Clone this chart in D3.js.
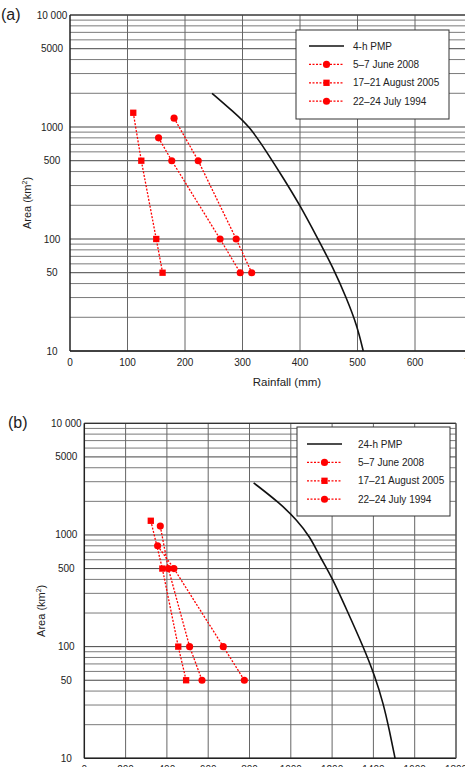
<!DOCTYPE html>
<html>
<head>
<meta charset="utf-8">
<script src="https://cdn.jsdelivr.net/npm/d3@7"></script>
<style>
  body { margin: 0; background: #fff; }
  svg { display: block; font-family: 'Liberation Sans', Arial, sans-serif; }
</style>
</head>
<body>
<div id="chart"></div>
<script>
const width = 465
const height = 767

// flood events: area (km2) and rainfall (mm) for 4-h and 24-h durations
const eventNames = ['5–7 June 2008', '17–21 August 2005', '22–24 July 1994']
const june2008Area = [1200, 500, 100, 50]
const june2008Rain4h = [181, 223, 289, 316]
const june2008Rain24h = [368, 407, 510, 570]
const aug2005Area = [1340, 500, 100, 50]
const aug2005Rain4h = [110, 124, 150, 161]
const aug2005Rain24h = [322, 378, 455, 493]
const jul1994Area = [800, 500, 100, 50]
const jul1994Rain4h = [154, 177, 261, 296]
const jul1994Rain24h = [355, 434, 673, 775]

// PMP depth-area curves
const pmpArea4h = [2000, 1370, 1000, 600, 350, 200, 105, 55, 29.5, 17, 10]
const pmpRain4h = [247, 284, 313, 342, 371, 400, 429, 458, 481, 499, 510]
const pmpArea24h = [2930, 1920, 1360, 964, 638, 423, 213, 100, 54, 31, 18, 10]
const pmpRain24h = [820, 948, 1029, 1093, 1141, 1198, 1271, 1351, 1408, 1448, 1477, 1505]

const yTicks = [10, 50, 100, 500, 1000, 5000, 10000]
const yTickLabels = ['10', '50', '100', '500', '1000', '5000', '10 000']
const xTicks4h = [0, 100, 200, 300, 400, 500, 600, 700, 800]
const xTicks24h = [0, 200, 400, 600, 800, 1000, 1200, 1400, 1600, 1800]

const red = '#ff0000'
const zip = (xs, ys) => xs.map((x, i) => ({ rain: x, area: ys[i] }))

const svg = d3.select('#chart')
  .append('svg')
  .attr('width', width)
  .attr('height', height)

function drawPanel(opt) {
  const x = d3.scaleLinear().domain(opt.xDomain).range([opt.left, opt.right])
  const y = d3.scaleLog().domain([10, 10000]).range([opt.bottom, opt.top])
  const g = svg.append('g')
  const xEnd = Math.min(opt.right, width + 5)

  // horizontal log grid
  const hLines = []
  for (let dec = 10; dec < 10000; dec *= 10) {
    for (let m = 1; m < 10; m++) hLines.push(dec * m)
  }
  hLines.push(10000)
  g.selectAll('.hgrid')
    .data(hLines)
    .enter().append('line')
    .attr('x1', opt.left)
    .attr('x2', xEnd)
    .attr('y1', d => y(d))
    .attr('y2', d => y(d))
    .attr('stroke', d => {
      const m = d / Math.pow(10, Math.floor(Math.log10(d) + 1e-9))
      return (Math.round(m) === 1 || Math.round(m) === 5) ? '#444' : '#7a7a7a'
    })
    .attr('stroke-width', 1)

  // vertical grid
  g.selectAll('.vgrid')
    .data(opt.xTicks.slice(1))
    .enter().append('line')
    .attr('x1', d => x(d))
    .attr('x2', d => x(d))
    .attr('y1', opt.top)
    .attr('y2', opt.bottom)
    .attr('stroke', '#666')
    .attr('stroke-width', 1)

  // frame
  g.append('line').attr('x1', opt.left).attr('x2', xEnd)
    .attr('y1', opt.top).attr('y2', opt.top).attr('stroke', '#333').attr('stroke-width', 1.2)
  g.append('line').attr('x1', opt.left).attr('x2', xEnd)
    .attr('y1', opt.bottom).attr('y2', opt.bottom).attr('stroke', '#222').attr('stroke-width', 1.5)
  g.append('line').attr('x1', opt.left).attr('x2', opt.left)
    .attr('y1', opt.top).attr('y2', opt.bottom).attr('stroke', '#222').attr('stroke-width', 1.5)
  if (opt.right <= width) {
    g.append('line').attr('x1', opt.right).attr('x2', opt.right)
      .attr('y1', opt.top).attr('y2', opt.bottom).attr('stroke', '#555').attr('stroke-width', 1.2)
  }

  // tick labels
  g.selectAll('.ylab')
    .data(yTicks)
    .enter().append('text')
    .attr('x', opt.left - 18)
    .attr('y', d => y(d) + 3.5)
    .attr('text-anchor', 'middle')
    .attr('font-size', 10)
    .attr('fill', '#222')
    .text((d, i) => yTickLabels[i])

  g.selectAll('.xlab')
    .data(opt.xTicks)
    .enter().append('text')
    .attr('x', d => x(d))
    .attr('y', opt.bottom + 15)
    .attr('text-anchor', 'middle')
    .attr('font-size', 10)
    .attr('fill', '#222')
    .text(d => d)

  // axis titles
  const yt = g.append('text')
    .attr('transform', `translate(${opt.left - 39},${(opt.top + opt.bottom) / 2 + 20}) rotate(-90)`)
    .attr('text-anchor', 'middle')
    .attr('font-size', 11)
    .attr('fill', '#222')
  yt.append('tspan').text('Area (km')
  yt.append('tspan').attr('font-size', 7).attr('dy', -4).text('2')
  yt.append('tspan').attr('dy', 4).text(')')

  if (opt.xTitle) {
    g.append('text')
      .attr('x', 287)
      .attr('y', opt.bottom + 35)
      .attr('text-anchor', 'middle')
      .attr('font-size', 11.5)
      .attr('fill', '#222')
      .text(opt.xTitle)
  }

  g.append('text')
    .attr('x', opt.labelX)
    .attr('y', opt.top + 5)
    .attr('font-size', 16)
    .attr('fill', '#222')
    .text(opt.label)

  // PMP curve
  const line = d3.line()
    .x(d => x(d.rain))
    .y(d => y(d.area))
    .curve(d3.curveBasis)

  g.append('path')
    .datum(opt.pmp)
    .attr('d', line)
    .attr('fill', 'none')
    .attr('stroke', '#111')
    .attr('stroke-width', 1.6)

  // event series
  const straight = d3.line().x(d => x(d.rain)).y(d => y(d.area))
  opt.events.forEach(ev => {
    g.append('path')
      .datum(ev.pts)
      .attr('d', straight)
      .attr('fill', 'none')
      .attr('stroke', red)
      .attr('stroke-width', 1.3)
      .attr('stroke-dasharray', '2,1.5')
    g.selectAll(null)
      .data(ev.pts)
      .enter().append('path')
      .attr('transform', d => `translate(${x(d.rain)},${y(d.area)})`)
      .attr('d', d3.symbol().type(ev.symbol).size(ev.size))
      .attr('fill', red)
  })

  // legend
  const lg = g.append('g')
  lg.append('rect')
    .attr('x', opt.legend.x)
    .attr('y', opt.legend.y)
    .attr('width', opt.legend.w)
    .attr('height', opt.legend.h)
    .attr('fill', '#fff')
    .attr('stroke', '#333')
    .attr('stroke-width', 1)

  const rows = [{ name: opt.pmpName, pmp: true }].concat(opt.events)
  rows.forEach((r, i) => {
    const ry = opt.legend.y + opt.legend.row0 + i * opt.legend.step
    const x1 = opt.legend.x + opt.legend.lineX
    const x2 = x1 + 35
    lg.append('line')
      .attr('x1', x1).attr('x2', x2)
      .attr('y1', ry).attr('y2', ry)
      .attr('stroke', r.pmp ? '#111' : red)
      .attr('stroke-width', r.pmp ? 1.6 : 1.3)
      .attr('stroke-dasharray', r.pmp ? null : '2,1.5')
    if (!r.pmp) {
      lg.append('path')
        .attr('transform', `translate(${(x1 + x2) / 2},${ry})`)
        .attr('d', d3.symbol().type(r.symbol).size(r.size))
        .attr('fill', red)
    }
    lg.append('text')
      .attr('x', opt.legend.x + opt.legend.textX)
      .attr('y', ry + 3.5)
      .attr('font-size', 10)
      .attr('fill', '#222')
      .text(r.name)
  })
}

const eventsFor = (rJune, rAug, rJul) => [
  { name: eventNames[0], pts: zip(rJune, june2008Area), symbol: d3.symbolCircle, size: 40 },
  { name: eventNames[1], pts: zip(rAug, aug2005Area), symbol: d3.symbolSquare, size: 40 },
  { name: eventNames[2], pts: zip(rJul, jul1994Area), symbol: d3.symbolCircle, size: 40 }
]

drawPanel({
  label: '(a)', labelX: 1,
  left: 70, right: 530, top: 15, bottom: 351,
  xDomain: [0, 800], xTicks: xTicks4h,
  xTitle: 'Rainfall (mm)',
  pmpName: '4-h PMP',
  pmp: zip(pmpRain4h, pmpArea4h),
  events: eventsFor(june2008Rain4h, aug2005Rain4h, jul1994Rain4h),
  legend: { x: 296, y: 30, w: 153, h: 89, row0: 16, step: 18.4, lineX: 13, textX: 57 }
})

drawPanel({
  label: '(b)', labelX: 8,
  left: 84.3, right: 456, top: 423.3, bottom: 758.3,
  xDomain: [0, 1800], xTicks: xTicks24h,
  xTitle: null,
  pmpName: '24-h PMP',
  pmp: zip(pmpRain24h, pmpArea24h),
  events: eventsFor(june2008Rain24h, aug2005Rain24h, jul1994Rain24h),
  legend: { x: 297, y: 427, w: 153, h: 89, row0: 17, step: 18.4, lineX: 10, textX: 61 }
})
</script>
</body>
</html>
